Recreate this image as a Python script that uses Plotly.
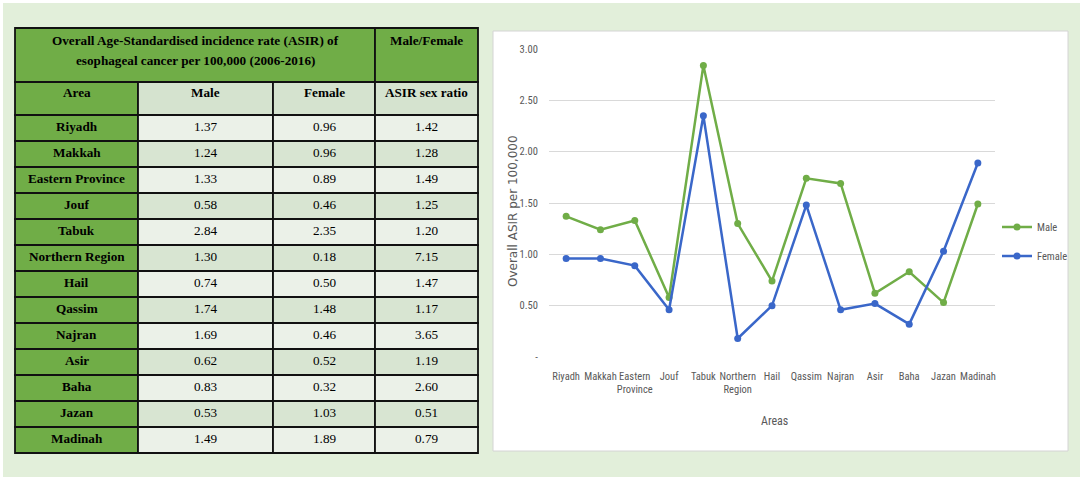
import plotly.graph_objects as go

# ---------------- data ----------------
areas = ["Riyadh", "Makkah", "Eastern Province", "Jouf", "Tabuk", "Northern Region",
         "Hail", "Qassim", "Najran", "Asir", "Baha", "Jazan", "Madinah"]
male = [1.37, 1.24, 1.33, 0.58, 2.84, 1.30, 0.74, 1.74, 1.69, 0.62, 0.83, 0.53, 1.49]
female = [0.96, 0.96, 0.89, 0.46, 2.35, 0.18, 0.50, 1.48, 0.46, 0.52, 0.32, 1.03, 1.89]
sex_ratio = [1.42, 1.28, 1.49, 1.25, 1.20, 7.15, 1.47, 1.17, 3.65, 1.19, 2.60, 0.51, 0.79]
axis_labels = ["Riyadh", "Makkah", "Eastern<br>Province", "Jouf", "Tabuk", "Northern<br>Region",
               "Hail", "Qassim", "Najran", "Asir", "Baha", "Jazan", "Madinah"]
y_tickvals = [0, 0.5, 1.0, 1.5, 2.0, 2.5, 3.0]
y_ticktext = ["-", "0.50", "1.00", "1.50", "2.00", "2.50", "3.00"]
table_title_lines = ["Overall Age-Standardised incidence rate (ASIR) of",
                     "esophageal cancer per 100,000 (2006-2016)"]
ratio_title = "Male/Female"
col_headers = ["Area", "Male", "Female", "ASIR sex ratio"]

# ---------------- layout helpers ----------------
W, H = 1084, 481
def px(x):
    return x / W
def py(y):
    return 1 - y / H

GREEN = "#70ad47"
BLUE = "#3a67c9"
shapes = []
annotations = []

def rect(x0, y0, x1, y1, fill, line_color=None, lw=0):
    shapes.append(dict(type="rect", xref="paper", yref="paper",
                       x0=px(x0), x1=px(x1), y0=py(y1), y1=py(y0),
                       fillcolor=fill, layer="below",
                       line=dict(color=line_color or fill, width=lw)))

def text(x, y, s, bold=False, size=13, family="Liberation Serif, Times New Roman, serif",
         color="#000000", angle=0, xanchor="center"):
    annotations.append(dict(xref="paper", yref="paper", x=px(x), y=py(y),
                            text=f"<b>{s}</b>" if bold else s, showarrow=False,
                            xanchor=xanchor, yanchor="middle", textangle=angle,
                            font=dict(family=family, size=size, color=color)))

# background
rect(3, 3, 1080, 477, "#e2efda")
# chart panel
rect(493, 31, 1068, 451, "#ffffff", "#d4d4d4", 1)

# ---------------- table ----------------
col_edges = [15, 138, 273, 375, 478]
top = 28
h1_bottom = 82
h2_bottom = 115
row_h = 26
BORDER = "#111111"
BW = 1.8

# header row 1
rect(col_edges[0], top, col_edges[3], h1_bottom, GREEN, BORDER, BW)
rect(col_edges[3], top, col_edges[4], h1_bottom, GREEN, BORDER, BW)
cx_merged = (col_edges[0] + col_edges[3]) / 2
text(cx_merged, 40, table_title_lines[0], bold=True, size=13.2)
text(cx_merged, 60, table_title_lines[1], bold=True, size=13.2)
text((col_edges[3] + col_edges[4]) / 2, 40, ratio_title, bold=True, size=13.2)

# header row 2
for j, h in enumerate(col_headers):
    fill = GREEN if j == 0 else "#d5e3cf"
    rect(col_edges[j], h1_bottom, col_edges[j + 1], h2_bottom, fill, BORDER, BW)
    text((col_edges[j] + col_edges[j + 1]) / 2, 93, h, bold=True, size=13.2)

# data rows
for i, a in enumerate(areas):
    y0 = h2_bottom + i * row_h
    y1 = y0 + row_h
    rowfill = "#ebf1e8" if i % 2 == 0 else "#d8e5d2"
    vals = [a, f"{male[i]:.2f}", f"{female[i]:.2f}", f"{sex_ratio[i]:.2f}"]
    for j, v in enumerate(vals):
        fill = GREEN if j == 0 else rowfill
        rect(col_edges[j], y0, col_edges[j + 1], y1, fill, BORDER, BW)
        text((col_edges[j] + col_edges[j + 1]) / 2, y0 + 11, v, bold=(j == 0), size=13.2)

# ---------------- chart ----------------
TICKFONT = dict(family="Liberation Sans Narrow, Roboto Condensed, Arial Narrow, Roboto, sans-serif",
                size=10.5, color="#595959")

fig = go.Figure()
fig.add_trace(go.Scatter(x=areas, y=male, name="Male", mode="lines+markers",
                         line=dict(color=GREEN, width=2.5),
                         marker=dict(symbol="circle", size=7, color=GREEN),
                         legendgroup="m", cliponaxis=False))
fig.add_trace(go.Scatter(x=areas, y=female, name="Female", mode="lines+markers",
                         line=dict(color=BLUE, width=2.5),
                         marker=dict(symbol="circle", size=7, color=BLUE),
                         legendgroup="f", cliponaxis=False))

# axis titles
text(774, 421, "Areas", family="Liberation Sans Narrow, Roboto Condensed, Roboto, sans-serif",
     size=12, color="#595959")
text(513, 211, "Overall ASIR per 100,000", family="DejaVu Sans, Verdana, sans-serif",
     size=12, color="#595959", angle=-90)

fig.update_layout(
    width=W, height=H, autosize=False,
    margin=dict(l=0, r=0, t=0, b=0, pad=0, autoexpand=False),
    paper_bgcolor="#ffffff", plot_bgcolor="rgba(0,0,0,0)",
    shapes=shapes, annotations=annotations,
    showlegend=True,
    legend=dict(x=px(997), y=py(241.5), xanchor="left", yanchor="middle",
                bgcolor="rgba(0,0,0,0)", font=TICKFONT, itemwidth=30,
                traceorder="grouped", tracegroupgap=10),
    xaxis=dict(domain=[px(549), px(995)], type="category", range=[-0.5, 12.5],
               tickvals=areas, ticktext=axis_labels, tickfont=TICKFONT, tickangle=0,
               showgrid=False, zeroline=False, showline=False, automargin=False,
               ticks="outside", ticklen=9, tickcolor="rgba(0,0,0,0)", fixedrange=True),
    yaxis=dict(domain=[py(357), py(49)], range=[0, 3.0],
               tickvals=y_tickvals, ticktext=y_ticktext, tickfont=TICKFONT,
               showgrid=True, gridcolor="#d9d9d9", gridwidth=1, zeroline=False,
               showline=False, ticks="outside", ticklen=8, automargin=False,
               tickcolor="rgba(0,0,0,0)", fixedrange=True),
)

post = ("document.documentElement.style.margin='0px';"
        "document.body.style.margin='0px';"
        "document.documentElement.style.overflow='hidden';"
        "document.body.style.overflow='hidden';"
        "var d=document.getElementById('{plot_id}');"
        "d.style.position='fixed';d.style.top='0px';d.style.left='0px';")

fig.write_html("out.html", post_script=post, config={"displayModeBar": False})
